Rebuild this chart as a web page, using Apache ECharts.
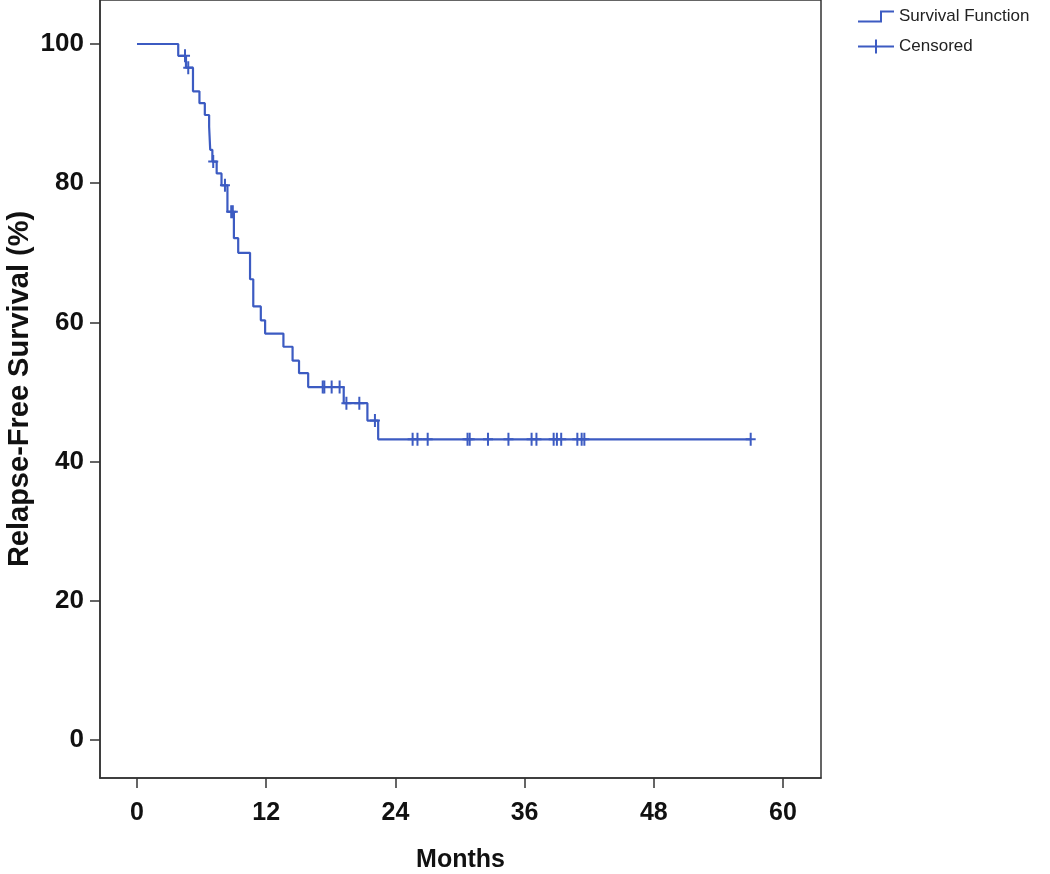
<!DOCTYPE html>
<html>
<head>
<meta charset="utf-8">
<script src="https://cdn.jsdelivr.net/npm/echarts@6/dist/echarts.min.js"></script>
<style>
  html, body { margin: 0; padding: 0; background: #fff; }
  #chart { width: 1050px; height: 874px; }
</style>
</head>
<body>
<div id="chart"></div>
<script>
// Kaplan-Meier survival steps: time (months) of each drop and survival (%) after it
const eventTimes = [0, 3.83, 4.55, 5.2, 5.8, 6.3, 6.7, 6.8, 7.0, 7.4, 7.85, 8.4, 9.0, 9.4,
  10.5, 10.8, 11.5, 11.9, 13.6, 14.45, 15.05, 15.9, 19.2, 21.4, 22.4, 57.0];
const survivalPct = [100, 98.3, 96.6, 93.2, 91.5, 89.8, 88.1, 84.8, 83.1, 81.4, 79.7, 75.9, 72.1, 70.0,
  66.2, 62.3, 60.3, 58.4, 56.5, 54.5, 52.7, 50.7, 48.4, 45.9, 43.2, 43.2];

// Censored observations
const censorTimes = [4.46, 4.76, 7.08, 8.17, 8.75, 8.9, 17.25, 17.4, 18.08, 18.82, 19.45, 20.65, 22.1,
  25.6, 26.05, 27.0, 30.7, 30.9, 32.6, 34.5, 36.65, 37.1, 38.7, 39.0, 39.4, 40.9, 41.3, 41.55, 57.0];
const censorPct = [98.3, 96.6, 83.1, 79.7, 75.9, 75.9, 50.7, 50.7, 50.7, 50.7, 48.4, 48.4, 45.9,
  43.2, 43.2, 43.2, 43.2, 43.2, 43.2, 43.2, 43.2, 43.2, 43.2, 43.2, 43.2, 43.2, 43.2, 43.2, 43.2];

const xTicks = [0, 12, 24, 36, 48, 60];
const yTicks = [0, 20, 40, 60, 80, 100];
const seriesNames = ['Survival Function', 'Censored'];

const blue = '#3c5bc2';
const axisColor = '#333';
const font = "'Liberation Sans', Arial, sans-serif";

const chart = echarts.init(document.getElementById('chart'), null, { renderer: 'canvas' });

const curveData = eventTimes.map((t, i) => [t, survivalPct[i]]);
const censorData = censorTimes.map((t, i) => [t, censorPct[i]]);

chart.setOption({
  animation: false,
  backgroundColor: '#fff',
  grid: {
    left: 100, right: 229, top: 0, bottom: 96,
    containLabel: false,
    outerBoundsMode: 'none',
    show: true, borderColor: axisColor, borderWidth: 1.5, backgroundColor: 'transparent'
  },
  legend: {
    orient: 'vertical',
    left: 853, top: 3,
    itemWidth: 36, itemHeight: 14, itemGap: 13,
    textStyle: { fontFamily: font, fontSize: 17, color: '#222' },
    data: [
      { name: seriesNames[0], icon: 'path://M0,11H22V1H36V3H24V13H0Z' },
      { name: seriesNames[1], icon: 'path://M0,6H17V0H19V6H36V8H19V14H17V8H0Z' }
    ]
  },
  xAxis: {
    type: 'value',
    min: -3.436, max: 63.53,
    name: 'Months',
    nameLocation: 'middle',
    nameGap: 70,
    nameMoveOverlap: false,
    nameTextStyle: { fontFamily: font, fontSize: 25, fontWeight: 'bold', color: '#111' },
    axisLine: { show: true, onZero: false, lineStyle: { color: axisColor, width: 1.5 } },
    axisTick: { show: true, length: 10, customValues: xTicks, lineStyle: { color: axisColor, width: 1.5 } },
    axisLabel: { customValues: xTicks, margin: 23, fontFamily: font, fontSize: 25, fontWeight: 'bold', color: '#111' },
    splitLine: { show: false }
  },
  yAxis: {
    type: 'value',
    min: -5.46, max: 106.32,
    name: 'Relapse-Free Survival (%)',
    nameLocation: 'middle',
    nameRotate: 90,
    nameGap: 66,
    nameMoveOverlap: false,
    nameTextStyle: { fontFamily: font, fontSize: 29, fontWeight: 'bold', color: '#111' },
    axisLine: { show: true, onZero: false, lineStyle: { color: axisColor, width: 1.5 } },
    axisTick: { show: true, length: 10, customValues: yTicks, lineStyle: { color: axisColor, width: 1.5 } },
    axisLabel: { customValues: yTicks, margin: 16, fontFamily: font, fontSize: 26, fontWeight: 'bold', color: '#111' },
    splitLine: { show: false }
  },
  series: [
    {
      name: seriesNames[0],
      type: 'line',
      step: 'end',
      showSymbol: false,
      data: curveData,
      itemStyle: { color: blue },
      lineStyle: { color: blue, width: 2.2 },
      z: 2
    },
    {
      name: seriesNames[1],
      type: 'scatter',
      data: censorData,
      symbol: 'path://M4,0H6V13H4Z M0,5.5H10V7.5H0Z',
      symbolSize: [10, 13],
      itemStyle: { color: blue, opacity: 1 },
      z: 3
    }
  ]
});
</script>
</body>
</html>
